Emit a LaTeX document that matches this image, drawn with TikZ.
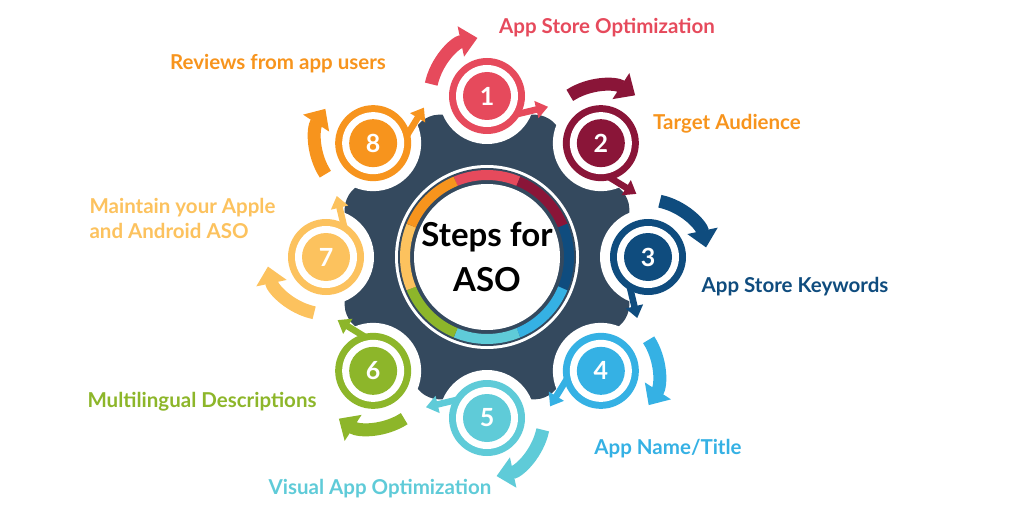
\documentclass[tikz,border=0pt]{standalone}
\usepackage{fontspec}
\setmainfont{Lato}
\definecolor{asoGear}{HTML}{34495E}
\definecolor{asoRed}{HTML}{E64A5C}
\definecolor{asoMaroon}{HTML}{8A1538}
\definecolor{asoNavy}{HTML}{0F4C7E}
\definecolor{asoSky}{HTML}{35B1E4}
\definecolor{asoTeal}{HTML}{5FCBD8}
\definecolor{asoGreen}{HTML}{8DB62A}
\definecolor{asoYellow}{HTML}{FCC25E}
\definecolor{asoOrange}{HTML}{F7941D}
\usetikzlibrary{calc,arrows.meta}

\begin{document}
\begin{tikzpicture}[x=1pt,y=1pt,
  steplabel/.style={font=\fontsize{20.5}{25}\selectfont\bfseries},
  numtext/.style={text=white, font=\fontsize{25}{25}\selectfont\bfseries},
  bigarrow/.style={line width=13pt, -{Triangle[length=17pt,width=30pt]}},
  smallarrow/.style={line width=6.5pt, -{Triangle[length=12pt,width=17pt]}}]
  \useasboundingbox (0,0) rectangle (1024,512);
  \coordinate (c) at (487,255);
  % gear body
  \fill[asoGear, rounded corners=10pt, shift={(c)}] (22.5:154) \foreach \i in {1,...,7} { -- ({22.5+45*\i}:154) } -- cycle;
  % white cut-outs round the steps
  \foreach \k in {1,...,8} {
    \coordinate (n\k) at ([shift={(90-45*\k+45:161)}]c);
    \fill[white] (n\k) circle (48);
  }
  % hub
  \fill[white] (c) circle (92);
  \fill[asoGear] (c) circle (89);
  \foreach \k/\col in {1/asoRed,2/asoMaroon,3/asoNavy,4/asoSky,5/asoTeal,6/asoGreen,7/asoYellow,8/asoOrange}
    \draw[\col, line width=10pt] ([shift={(112.5-45*\k+45:82)}]c) arc[start angle=112.5-45*\k+45, end angle=67.5-45*\k+45, radius=82];
  \fill[white] (c) circle (73);
  \node[font=\fontsize{33}{45}\selectfont\bfseries, align=center] (title) at (c) {Steps for\\ASO};
  % steps
  \foreach \k/\col in {1/asoRed,2/asoMaroon,3/asoNavy,4/asoSky,5/asoTeal,6/asoGreen,7/asoYellow,8/asoOrange} {
    \pgfmathsetmacro\r{-45*(\k-1)}
    \draw[bigarrow, \col] ([shift={(168+\r:57)}]n\k) arc[start angle=168+\r, end angle=102+\r, radius=60];
    \draw[smallarrow, \col] ([shift={(-35+\r:33)}]n\k) -- ([shift={(-10+\r:62)}]n\k);
    \fill[\col] (n\k) circle (38);
    \fill[white] (n\k) circle (31);
    \fill[\col] (n\k) circle (24);
    \node[numtext] (num\k) at (n\k) {\k};
  }
  % labels
  \node[steplabel, text=asoRed] (l1) at (607,484) {App Store Optimization};
  \node[steplabel, text=asoOrange] (l2) at (727,388) {Target Audience};
  \node[steplabel, text=asoNavy] (l3) at (795,225) {App Store Keywords};
  \node[steplabel, text=asoSky] (l4) at (668,63) {App Name/Title};
  \node[steplabel, text=asoTeal] (l5) at (380,23) {Visual App Optimization};
  \node[steplabel, text=asoGreen] (l6) at (202,110) {Multilingual Descriptions};
  \node[steplabel, text=asoYellow, align=left, anchor=west] (l7) at (86,294) {Maintain your Apple\\and Android ASO};
  \node[steplabel, text=asoOrange] (l8) at (278,448) {Reviews from app users};
\end{tikzpicture}
\end{document}
